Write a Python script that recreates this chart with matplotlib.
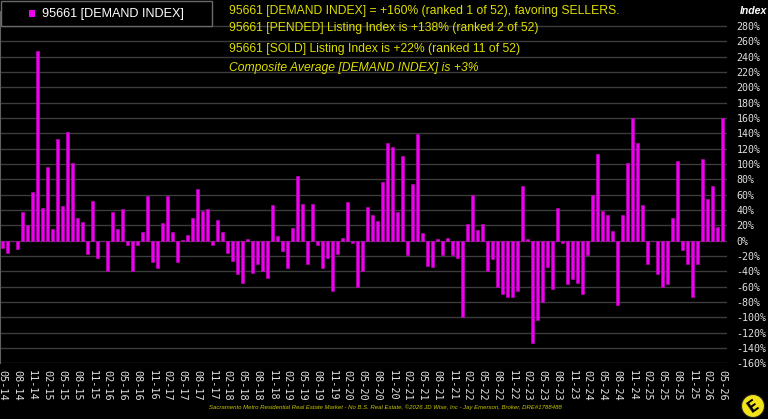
"""
plot.py

Demand index for zip 95661, monthly 05-14 .. 05-26, dark "terminal" style.

    python plot.py   ->  out.png
"""

import matplotlib
matplotlib.use("Agg")
import matplotlib.pyplot as plt
from matplotlib.patches import Rectangle, Ellipse

BG, MAGENTA, YELLOW, GRID, TXT = "#000000", "#f000f0", "#dede00", "#3c3c3c", "#e0e0e0"

# month labels, 05-14 .. 05-26 (145 months)
months = [f"{(4 + i) % 12 + 1:02d}-{14 + (4 + i) // 12:02d}" for i in range(145)]

# demand index (%)
demand_2014_2018 = [-10, -16, -1, -11, 37, 20, 63, 248, 43, 96, 15, 133, 45, 142, 102, 30,
                    25, -17, 52, -22, 0, -40, 37, 15, 42, -6, -39, -6, 12, 58, -28, -35,
                    23, 58, 11, -28, 1, 8, 30, 67, 39, 42, -5, 27, 12, -16, -26, -44,
                    -55, 2, -42, -31]
demand_2018_2022 = [-40, -48, 47, 6, -14, -36, 16, 84, 48, -31, 48, -6, -36, -22, -66, -17,
                    4, 50, -3, -60, -40, 44, 33, 26, 76, 128, 122, 38, 110, -18, 74, 139,
                    10, -33, -34, 2, -19, 3, -19, -23, -100, 22, 60, 14, 22, -40, -24, -60,
                    -69, -74]
demand_2022_2026 = [-73, -65, 71, 2, -133, -104, -80, -34, -63, 43, -3, -56, -50, -55, -69,
                    -18, 59, 113, 39, 33, 13, -84, 33, 101, 160, 127, 47, -30, -1, -44, -60,
                    -56, 30, 104, -12, -30, -74, -30, 106, 54, 71, 18, 160]
demand = demand_2014_2018 + demand_2018_2022 + demand_2022_2026

y_ticks = list(range(-160, 300, 20))

headline = ["95661 [DEMAND INDEX] = +160% (ranked 1 of 52), favoring SELLERS.",
            "95661 [PENDED] Listing Index is +138% (ranked 2 of 52)",
            "95661 [SOLD] Listing Index is +22% (ranked 11 of 52)"]
composite = "Composite Average [DEMAND INDEX] is +3%"
footer = ("Sacramento Metro Residential Real Estate Market - No B.S. Real Estate, "
          "\u00a92026 JD Wise, Inc - Jay Emerson, Broker, DRE#1788488")

W, H = 768, 419
fig = plt.figure(figsize=(W / 100, H / 100), dpi=100, facecolor=BG)
ax = fig.add_axes([0.0, 0.1327, 0.9466, 0.8418], facecolor=BG)

x = list(range(len(demand)))
ax.bar(x, demand, width=0.62, color=MAGENTA, edgecolor="#c800c8", lw=0.4, zorder=3)

ax.set_xlim(-0.46, 144.9)
ax.set_ylim(-160, 300)
ax.set_yticks(y_ticks)
ax.set_yticklabels([f"{v}%" for v in y_ticks], family="DejaVu Sans Mono", fontsize=7.2,
                   color=TXT)
ax.yaxis.tick_right()
ax.tick_params(axis="y", length=0, pad=7)
ax.grid(axis="y", color=GRID, lw=1.0, zorder=0)

ax.set_xticks(x[::3])
ax.set_xticklabels(months[::3], rotation=-90, family="DejaVu Sans Mono", fontsize=7.4,
                   color=TXT, va="top", ha="center")
ax.tick_params(axis="x", length=0, pad=5)

for side in ("top", "right", "bottom"):
    ax.spines[side].set_visible(False)
ax.spines["left"].set_color("#606060")

# legend box, top left
fig.patches.append(Rectangle((1 / W, 1 - 26 / H), 211 / W, 25 / H,
                             transform=fig.transFigure, facecolor=BG,
                             edgecolor="#6a6a6a", lw=1.0, zorder=5))
fig.patches.append(Rectangle((29 / W, 1 - 17 / H), 6 / W, 7 / H,
                             transform=fig.transFigure, facecolor=MAGENTA, zorder=6))
fig.text(42 / W, 1 - 13.5 / H, "95661 [DEMAND INDEX]", color="white",
         family="Liberation Sans", fontsize=9.1, va="center", ha="left", zorder=7)

# yellow headline text
for y_px, line in zip([11, 28, 49], headline):
    fig.text(229 / W, 1 - y_px / H, line, color=YELLOW, family="Liberation Sans",
             fontsize=8.7, va="center", ha="left")
fig.text(229 / W, 1 - 68 / H, composite, color=YELLOW, family="Liberation Sans",
         fontsize=8.7, style="italic", va="center", ha="left")

fig.text(754 / W, 1 - 11 / H, "Index", color="white", family="Liberation Sans",
         fontsize=7.6, style="italic", weight="bold", va="center", ha="center")

fig.text(385 / W, 1 - 407 / H, footer, color="#c8c800", family="Liberation Sans",
         fontsize=4.3, style="italic", va="center", ha="center")

# little round logo, bottom right
fig.patches.append(Ellipse((753 / W, 1 - 406 / H), 23 / W, 23 / H,
                           transform=fig.transFigure, facecolor="#f2e21a",
                           edgecolor="#222222", lw=0.8))
fig.text(753 / W, 1 - 406 / H, "E", color="black", family="DejaVu Sans",
         fontsize=11, weight="bold", rotation=35, va="center", ha="center")

fig.savefig("out.png", dpi=100, facecolor=BG)
